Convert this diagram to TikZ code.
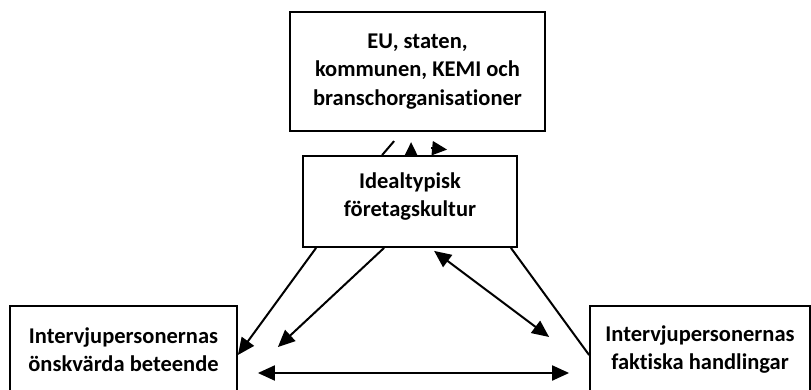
\documentclass[tikz,border=0pt]{standalone}
\usepackage{fontspec}
\setmainfont{Carlito}[RawFeature=-liga]
\usetikzlibrary{arrows.meta,calc}
\begin{document}
\begin{tikzpicture}[x=1pt,y=-1pt,
  box/.style={draw,line width=1.8pt,fill=white,align=center,inner sep=0pt,
    font=\fontsize{22.5}{28.5}\selectfont\bfseries},
  caption/.style={align=center,inner sep=0pt,
    font=\fontsize{22.5}{28.5}\selectfont\bfseries},
  link/.style={line width=2pt},
  tip/.style={-{Triangle[length=17pt,width=15pt]}},
  both/.style={{Triangle[length=17pt,width=15pt]}-{Triangle[length=17pt,width=15pt]}}]
\useasboundingbox (0,0) rectangle (811,390);
\clip (0,0) rectangle (811,390);

% boxes
\node[box,minimum width=255pt,minimum height=119pt] (top) at (417.5,71.5)
  {EU, staten,\\kommunen, KEMI och\\branschorganisationer};
\node[box,minimum width=214pt,minimum height=91pt] (mid) at (410,201.5) {};
\node[caption] (midtext) at ($(mid.center)+(0,-5)$) {Idealtypisk\\företagskultur};
\node[box,minimum width=227pt,minimum height=87pt] (left) at (123.5,349.5)
  {Intervjupersonernas\\önskvärda beteende};
\node[box,minimum width=220pt,minimum height=87pt] (right) at (700,349.5)
  {Intervjupersonernas\\faktiska handlingar};

% free ends of the open arrows
\coordinate (leftfree) at ($(left.east)+(40,-2.5)$);
\coordinate (rightfree) at ($(right.west)+(-40,-12.5)$);
\coordinate (midfree) at ($(mid.south west)+(132,3)$);

% connectors between the boxes
\draw[link,tip] ($(mid.south west)+(14,0)$) -- ($(left.east)+(0,5.5)$);
\draw[link,tip] ($(mid.south west)+(82,0)$) -- (leftfree);
\draw[link,both] (midfree) -- (rightfree);
\draw[link] ($(mid.south east)+(-7,0)$) -- ($(right.west)+(0,5.5)$);
\draw[link,both] ($(left.east)+(20,23.5)$) -- ($(right.west)+(-20,23.5)$);

% short pieces between the upper boxes
\draw[link] ($(mid.north west)+(80,0)$) -- ($(mid.north west)+(92,-14)$);
\draw[link,-{Triangle[length=13pt,width=12pt]}] ($(mid.north west)+(109,0)$) -- ($(mid.north west)+(109,-13)$);
\draw[link,-{Triangle[length=15pt,width=14pt]}] ($(mid.north west)+(129,-7)$) -- ($(mid.north west)+(145,-5.5)$);
\end{tikzpicture}
\end{document}
